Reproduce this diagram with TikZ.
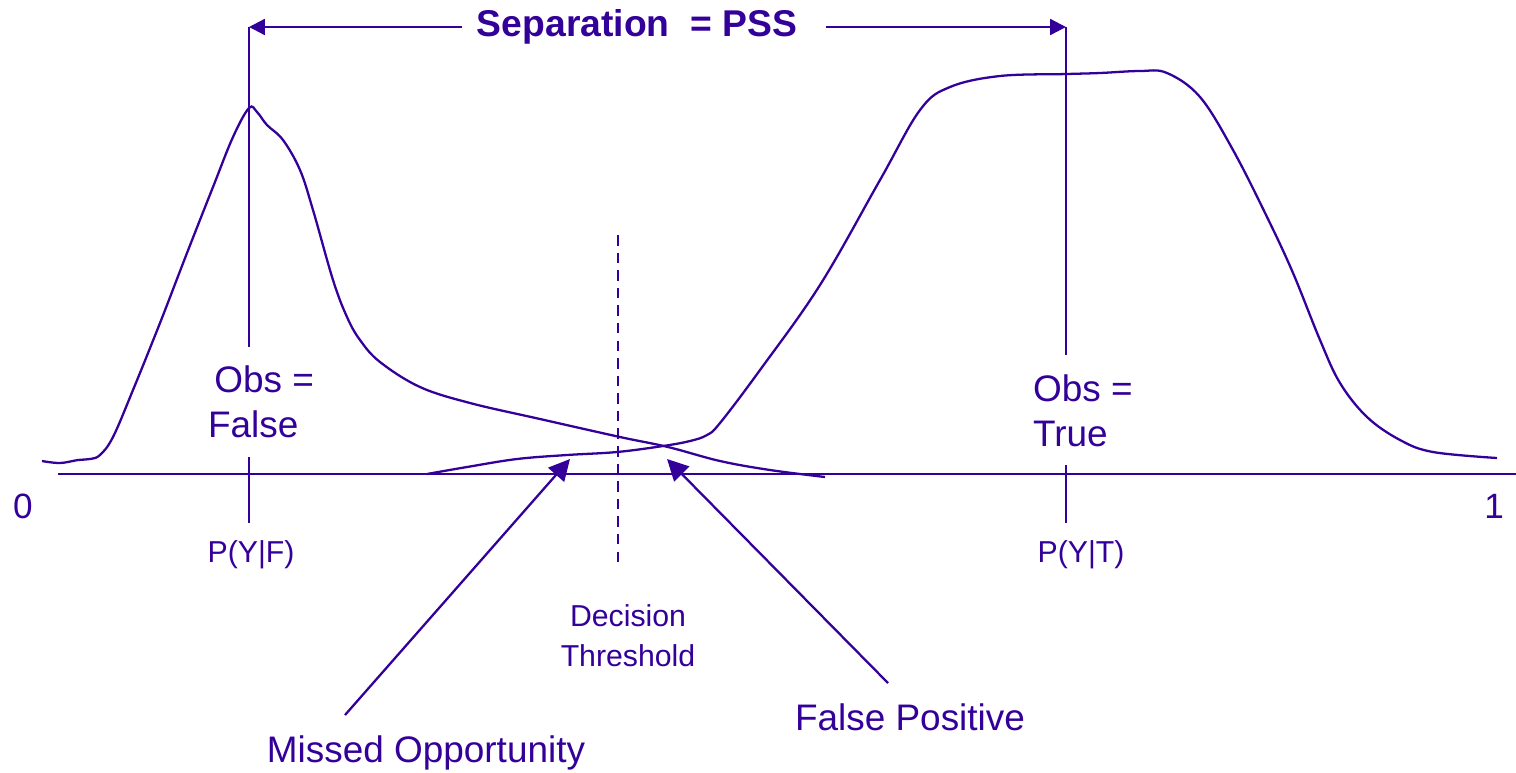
\documentclass[tikz,border=0pt]{standalone}
\usepackage{fontspec}
\setmainfont{Liberation Sans}
\usepackage{tikz}
\usetikzlibrary{arrows.meta}
\definecolor{ink}{HTML}{330099}

\begin{document}
\begin{tikzpicture}[x=0.01cm, y=-0.01cm,
        every path/.style={ink, line width=0.65pt},
        lbl/.style={text=ink, inner sep=0pt, font=\fontsize{10.5}{12.8}\selectfont},
        small/.style={text=ink, inner sep=0pt, font=\fontsize{8.6}{11.2}\selectfont}]
        \useasboundingbox (0,0) rectangle (1516,772);

        % axis
        \draw (58,474) -- (1516,474);
        \node[lbl, font=\fontsize{10}{12}\selectfont] (zero) at (23,506) {0};
        \node[lbl, font=\fontsize{10}{12}\selectfont] (one) at (1494,506) {1};

        % observation lines
        \coordinate (fTop) at (249,27);
        \coordinate (tTop) at (1066,27);
        \draw (fTop) -- (249,347);
        \draw (249,457) -- (249,523);
        \draw (tTop) -- (1066,355);
        \draw (1066,465) -- (1066,523);

        \node[lbl, align=left, anchor=west] (obsF) at (207,402) {\,Obs =\\False};
        \node[lbl, align=left, anchor=west] (obsT) at (1032,411) {Obs =\\True};
        \node[small, anchor=base] (pF) at (251,562) {P(Y|F)};
        \node[small, anchor=base] (pT) at (1081,562) {P(Y|T)};

        % separation
        \node[lbl, font=\fontsize{10.6}{12}\bfseries] (sep) at (637,27) {Separation\ \ = PSS};
        \draw[-{Triangle[length=4.5pt, width=4.5pt]}] (462,27) -- (fTop);
        \draw[-{Triangle[length=4.5pt, width=4.5pt]}] (826,27) -- (tTop);

        % curves
        \draw plot[smooth, tension=0.6] coordinates {(42,461) (60,463) (78,460) (90,459) (100,455)
            (113,437) (133,390) (160,323) (187,253) (213,187) (233,137) (249,108) (257,112)
            (267,125) (283,140) (300,170) (313,210) (333,280) (347,317) (360,340) (380,362)
            (420,387) (470,403) (540,419) (620,437) (668,447) (720,461) (770,470) (825,477)};
        \draw plot[smooth, tension=0.6] coordinates {(427,474) (467,467) (517,459) (567,455)
            (617,452) (663,446) (690,441) (707,435) (720,423) (760,370) (820,285) (880,180)
            (920,110) (950,87) (1000,76) (1067,74) (1100,73) (1140,71) (1167,73) (1200,97)
            (1233,150) (1267,217) (1293,273) (1320,340) (1340,383) (1367,417) (1400,440)
            (1433,452) (1497,458)};

        % threshold
        \draw[dash pattern=on 3pt off 2pt] (618,235) -- (618,563);
        \node[small, align=center, anchor=base] (thr) at (628,666) {Decision\\Threshold};

        % annotations
        \node[lbl, anchor=base] (missed) at (426,762) {Missed Opportunity};
        \node[lbl, anchor=base] (falsepos) at (910,730) {False Positive};
        \coordinate (mTail) at (345,715);
        \coordinate (mTip) at (570,459);
        \coordinate (fpTail) at (888,683);
        \coordinate (fpTip) at (667,459);
        \draw[-{Triangle[length=6pt, width=6pt]}] (mTail) -- (mTip);
        \draw[-{Triangle[length=6pt, width=6pt]}] (fpTail) -- (fpTip);
\end{tikzpicture}
\end{document}
